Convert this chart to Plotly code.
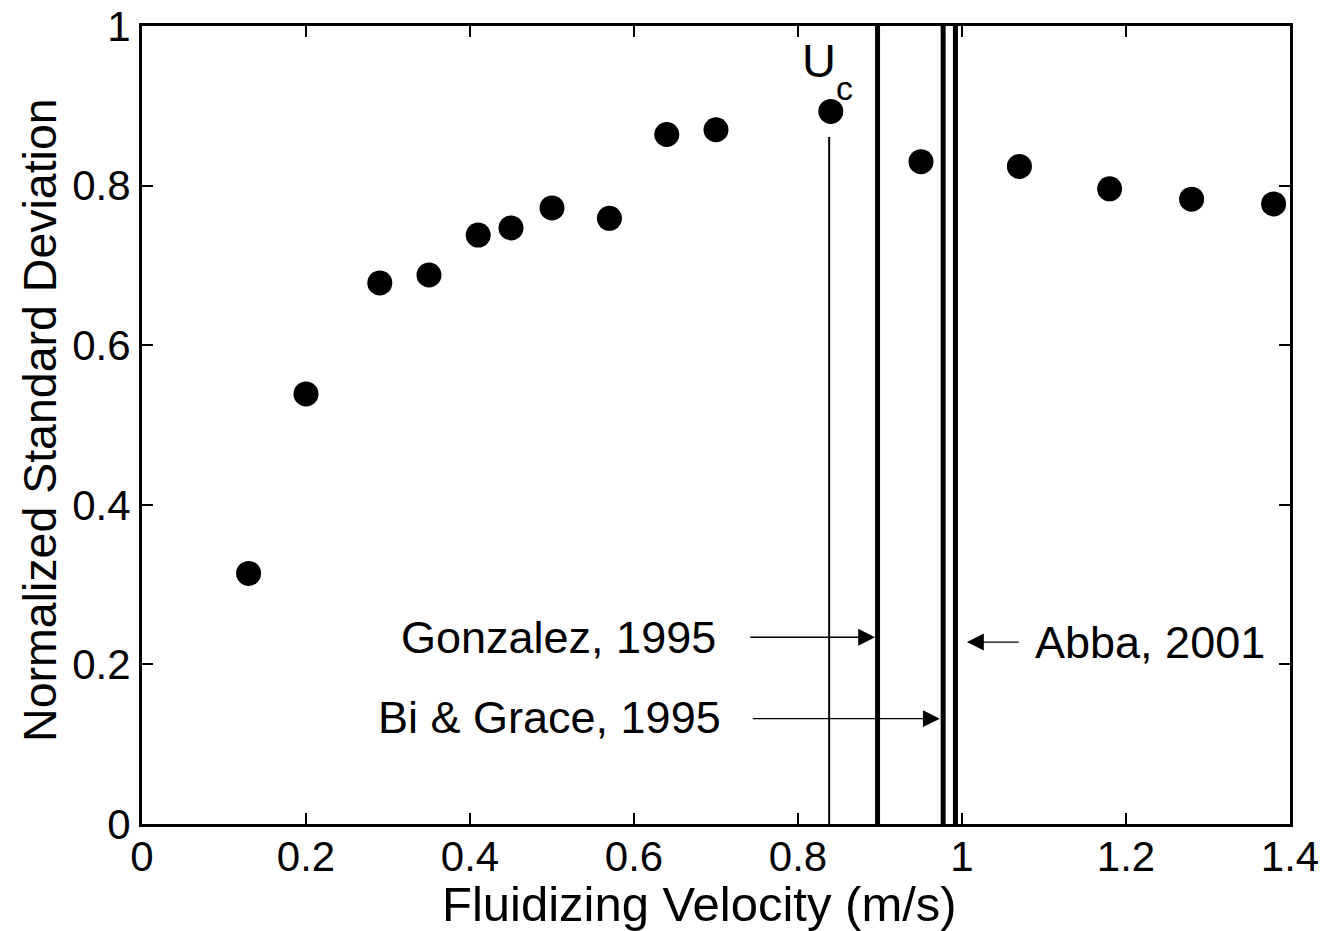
import plotly.graph_objects as go

# Data
velocity = [0.13, 0.20, 0.29, 0.35, 0.41, 0.45, 0.50, 0.57, 0.64, 0.70, 0.84, 0.95, 1.07, 1.18, 1.28, 1.38]
norm_std = [0.314, 0.539, 0.678, 0.688, 0.738, 0.747, 0.772, 0.759, 0.864, 0.870, 0.893, 0.830, 0.824, 0.796, 0.783, 0.777]

uc_value = 0.838
uc_top = 0.861
gonzalez_value = 0.897
bigrace_value = 0.977
abba_value = 0.992

x_ticks = [0, 0.2, 0.4, 0.6, 0.8, 1.0, 1.2, 1.4]
x_tick_labels = ["0", "0.2", "0.4", "0.6", "0.8", "1", "1.2", "1.4"]
y_ticks = [0, 0.2, 0.4, 0.6, 0.8, 1.0]
y_tick_labels = ["0", "0.2", "0.4", "0.6", "0.8", "1"]

FONT = "Arial, Liberation Sans, sans-serif"

fig = go.Figure()
fig.add_trace(go.Scatter(
    x=velocity, y=norm_std, mode="markers",
    marker=dict(color="black", size=25, line=dict(width=0)),
    showlegend=False, cliponaxis=False,
))

# vertical lines
fig.add_shape(type="line", xref="x", yref="y", x0=uc_value, x1=uc_value, y0=0, y1=uc_top,
              line=dict(color="black", width=2))
for v in [gonzalez_value, bigrace_value, abba_value]:
    fig.add_shape(type="line", xref="x", yref="y", x0=v, x1=v, y0=0, y1=1,
                  line=dict(color="black", width=5))

# arrows
arrows = [
    (gonzalez_value - 0.003, 0.234, 0.740),
    (bigrace_value - 0.004, 0.132, 0.743),
    (abba_value + 0.014, 0.228, 1.071),
]
for hx, hy, tx in arrows:
    fig.add_annotation(x=hx, y=hy, ax=tx, ay=hy, xref="x", yref="y", axref="x", ayref="y",
                       text="", showarrow=True, arrowhead=2, arrowsize=2.6, arrowwidth=1.3,
                       arrowcolor="black")

# labels
fig.add_annotation(x=0.702, y=0.234, xref="x", yref="y", text="Gonzalez, 1995", showarrow=False,
                   xanchor="right", yanchor="middle", font=dict(family=FONT, size=45, color="black"))
fig.add_annotation(x=0.709, y=0.133, xref="x", yref="y", text="Bi & Grace, 1995", showarrow=False,
                   xanchor="right", yanchor="middle", font=dict(family=FONT, size=45, color="black"))
fig.add_annotation(x=1.087, y=0.228, xref="x", yref="y", text="Abba, 2001", showarrow=False,
                   xanchor="left", yanchor="middle", font=dict(family=FONT, size=45, color="black"))
fig.add_annotation(x=0.8256, y=0.957, xref="x", yref="y", text="U", showarrow=False,
                   xanchor="center", yanchor="middle", font=dict(family=FONT, size=47, color="black"))
fig.add_annotation(x=0.857, y=0.922, xref="x", yref="y", text="c", showarrow=False,
                   xanchor="center", yanchor="middle", font=dict(family=FONT, size=34, color="black"))

# axis titles
fig.add_annotation(x=0.680, y=-0.100, xref="x", yref="paper", text="Fluidizing Velocity (m/s)",
                   showarrow=False, xanchor="center", yanchor="middle",
                   font=dict(family=FONT, size=49, color="black"))
fig.add_annotation(x=-0.0889, y=0.5063, xref="paper", yref="paper", text="Normalized Standard Deviation",
                   showarrow=False, xanchor="center", yanchor="middle", textangle=-90,
                   font=dict(family=FONT, size=46.5, color="black"))

axis_common = dict(
    showgrid=False, zeroline=False, showline=True, linecolor="black", linewidth=3,
    mirror="ticks", ticks="inside", ticklen=11, tickwidth=2, tickcolor="black",
    tickfont=dict(family=FONT, size=42, color="black"), automargin=False,
)
fig.update_xaxes(range=[0, 1.4], tickvals=x_ticks, ticktext=x_tick_labels,
                 ticklabelstandoff=-6, **axis_common)
fig.update_yaxes(range=[0, 1], tickvals=y_ticks, ticktext=y_tick_labels, **axis_common)

fig.update_layout(
    width=1331, height=931,
    margin=dict(l=142, r=41, t=26, b=107, pad=0, autoexpand=False),
    plot_bgcolor="white", paper_bgcolor="white",
    showlegend=False,
)
fig.write_html("out.html")
